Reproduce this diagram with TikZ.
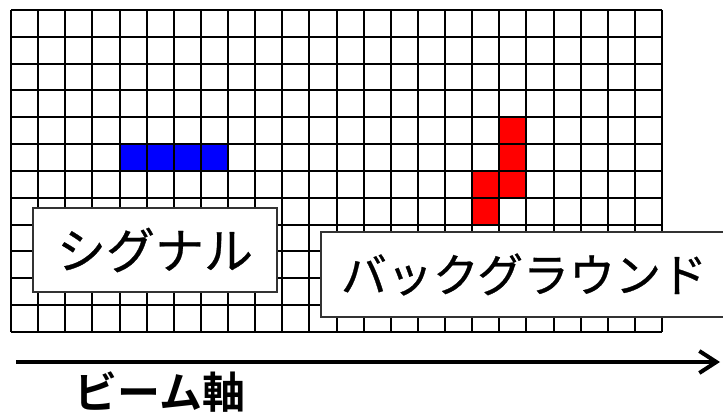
\documentclass[tikz,border=0pt]{standalone}
\usepackage{fontspec}
\newfontfamily\jp[FakeBold=0.6]{Noto Sans CJK JP}
\newfontfamily\jpb{Noto Sans CJK JP Bold}
\usetikzlibrary{arrows.meta}
\begin{document}
\begin{tikzpicture}[x=1pt,y=-1pt,
  gridline/.style={line width=2pt,black},
  labelbox/.style={draw=black!80,line width=1.3pt,fill=white,inner sep=0pt},
  axisarrow/.style={line width=4pt,-{Straight Barb[length=17pt,width=22pt,line width=4pt]}}]
\useasboundingbox (0,0) rectangle (723,414);
\clip (0,0) rectangle (723,414);
% grid cells
\def\cw{27.125}
\def\ch{26.833}
\foreach \c/\r in {4/5,5/5,6/5,7/5}{
  \fill[blue] (11+\c*\cw,10+\r*\ch) rectangle (11+\c*\cw+\cw,10+\r*\ch+\ch);
}
\foreach \c/\r in {18/4,18/5,17/6,18/6,17/7}{
  \fill[red] (11+\c*\cw,10+\r*\ch) rectangle (11+\c*\cw+\cw,10+\r*\ch+\ch);
}
\foreach \i in {0,...,24}{
  \draw[gridline] (11+\i*\cw,10) -- (11+\i*\cw,332);
}
\foreach \j in {0,...,12}{
  \draw[gridline] (11,10+\j*\ch) -- (662,10+\j*\ch);
}
% label boxes
\node[labelbox,minimum width=244pt,minimum height=84pt,font=\jp\fontsize{49}{54}\selectfont] (sig) at (155,250) {シグナル};
\node[labelbox,minimum width=406pt,minimum height=85pt,font=\jp\fontsize{46}{52}\selectfont] (bg) at (524,274.5) {バックグラウンド};
% axis
\coordinate (a0) at (16,362);
\coordinate (a1) at (720,362);
\draw[axisarrow] (a0) -- (a1);
\node[font=\jpb\fontsize{43}{48}\selectfont] (ax) at (160,392) {ビーム軸};
\end{tikzpicture}
\end{document}
